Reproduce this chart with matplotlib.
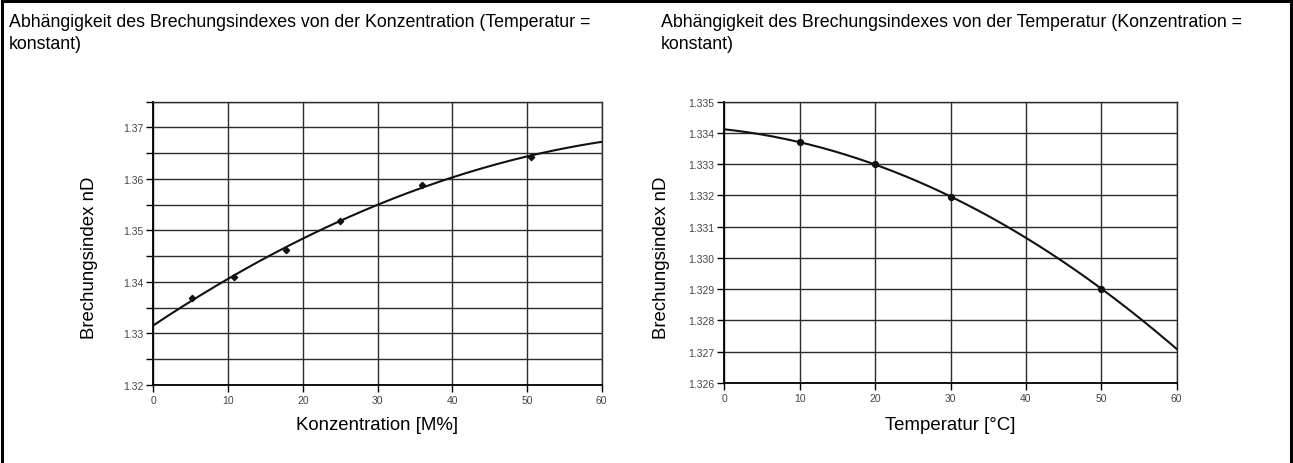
# Brechungsindex: Konzentration / Temperatur
import numpy as np
import matplotlib
matplotlib.use('Agg')
import matplotlib.pyplot as plt
from matplotlib.lines import Line2D

plt.rcParams['font.family'] = ['Liberation Sans', 'DejaVu Sans']

# Daten links: Konzentration [M%] vs. Brechungsindex
konz = [5.2, 10.8, 17.7, 25.0, 36.0, 50.5]
n_konz = [1.3368, 1.3410, 1.3463, 1.3519, 1.3588, 1.36435]

# Daten rechts: Temperatur [°C] vs. Brechungsindex
temp = [10, 20, 30, 50]
n_temp = [1.33370, 1.33300, 1.33196, 1.32902]

titel_links = 'Abhängigkeit des Brechungsindexes von der Konzentration (Temperatur =\nkonstant)'
titel_rechts = 'Abhängigkeit des Brechungsindexes von der Temperatur (Konzentration =\nkonstant)'
ylabel = 'Brechungsindex nD'
xlabel_links = 'Konzentration [M%]'
xlabel_rechts = 'Temperatur [°C]'

W, H = 1293, 464
fig = plt.figure(figsize=(W / 100, H / 100), dpi=100)

grid_col = '#2b2b2b'
tick_col = '#444444'
xs = np.linspace(0, 60, 300)

# linkes Diagramm
ax1 = fig.add_axes([153.3 / W, 78 / H, 448.4 / W, 283.3 / H])
ax1.plot(konz, n_konz, linestyle='none', marker='D', ms=3.2, color='#111111', zorder=3)
c1 = np.polyfit(konz, n_konz, 2)   # Trendlinie 2. Ordnung
ax1.plot(xs, np.polyval(c1, xs), color='#111111', lw=1.5, zorder=3)
ax1.set_xlim(0, 60)
ax1.set_ylim(1.32, 1.375)
yt1 = np.round(np.arange(1.32, 1.3751, 0.005), 3)
ax1.set_yticks(yt1)
ax1.set_yticklabels(['%.2f' % v if round(v * 1000) % 10 == 0 and v < 1.3745 else '' for v in yt1])

# rechtes Diagramm
ax2 = fig.add_axes([724.3 / W, 80 / H, 452.4 / W, 281.3 / H])
ax2.plot(temp, n_temp, linestyle='none', marker='o', ms=4.2, color='#111111', zorder=3)
c2 = np.polyfit(temp, n_temp, 2)
ax2.plot(xs, np.polyval(c2, xs), color='#111111', lw=1.5, zorder=3)
ax2.set_xlim(0, 60)
ax2.set_ylim(1.326, 1.335)
yt2 = np.round(np.arange(1.326, 1.33501, 0.001), 3)
ax2.set_yticks(yt2)
ax2.set_yticklabels(['%.3f' % v for v in yt2])

for ax in (ax1, ax2):
    ax.set_xticks(np.arange(0, 61, 10))
    ax.grid(True, color=grid_col, lw=1.0)
    ax.set_axisbelow(True)
    for s in ax.spines.values():
        s.set_color(grid_col)
        s.set_linewidth(1.0)
    for side in ('left', 'bottom'):
        ax.spines[side].set_color('black')
        ax.spines[side].set_linewidth(1.3)
    ax.tick_params(direction='out', length=5, width=1.0, color='black',
                   labelsize=7.5, labelcolor=tick_col, pad=2)
    ax.set_ylabel(ylabel, fontsize=13.4)

ax1.set_xlabel(xlabel_links, fontsize=13.4)
ax2.set_xlabel(xlabel_rechts, fontsize=13.4)
ax1.yaxis.set_label_coords(-0.124, 0.452)
ax2.yaxis.set_label_coords(-0.120, 0.448)
ax1.xaxis.set_label_coords(0.5, -0.109)
ax2.xaxis.set_label_coords(0.5, -0.117)

fig.text(9 / W, 1 - 14 / H, titel_links, fontsize=12.8, va='top', ha='left', linespacing=1.37)
fig.text(661 / W, 1 - 14 / H, titel_rechts, fontsize=12.8, va='top', ha='left', linespacing=1.37)

# Rahmen
lw = 2.2
fig.add_artist(Line2D([2 / W, 2 / W], [0, 1 - 2 / H], color='black', lw=lw, transform=fig.transFigure))
fig.add_artist(Line2D([1291 / W, 1291 / W], [0, 1 - 2 / H], color='black', lw=lw, transform=fig.transFigure))
fig.add_artist(Line2D([2 / W, 1291 / W], [1 - 2 / H, 1 - 2 / H], color='black', lw=lw, transform=fig.transFigure))

fig.savefig('out.png', dpi=100)
